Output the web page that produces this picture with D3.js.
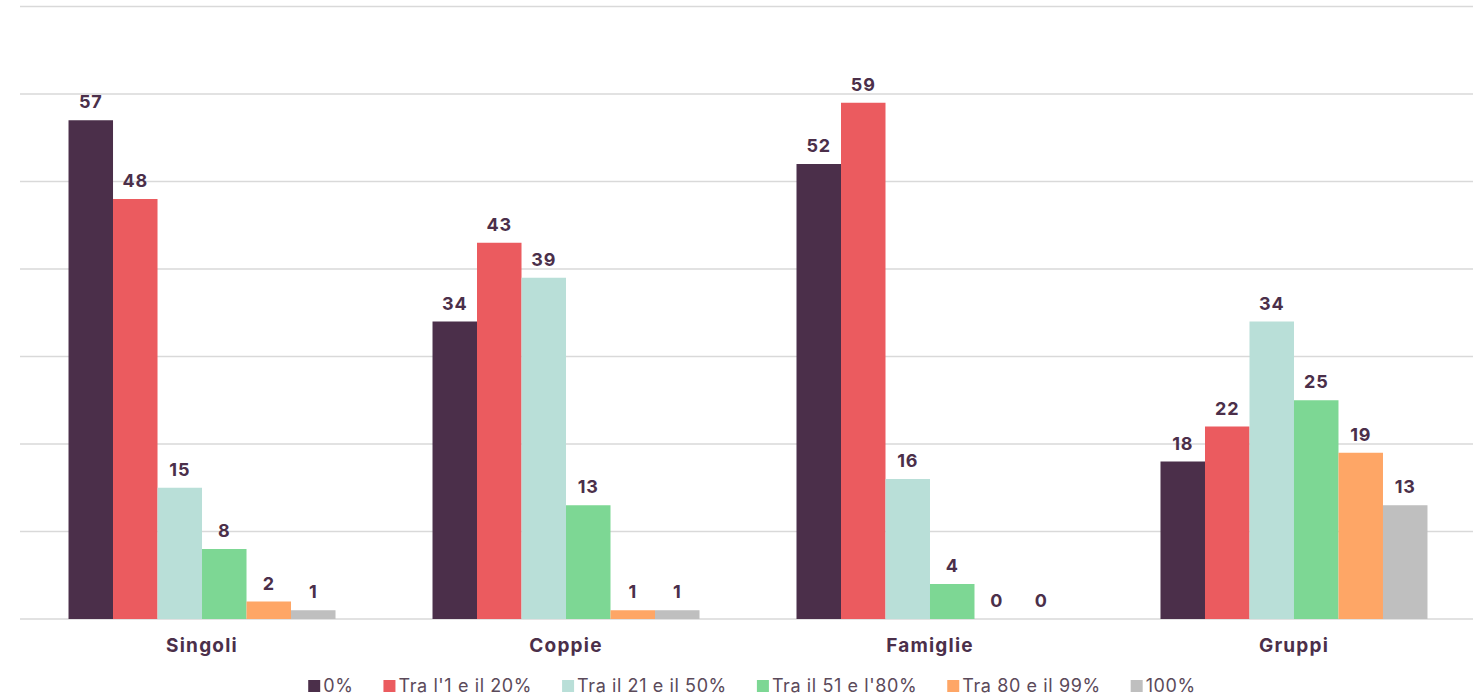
<!DOCTYPE html>
<html><head><meta charset="utf-8">
<script src="https://cdn.jsdelivr.net/npm/d3@7"></script>
<style>html,body{margin:0;padding:0;background:#fff;}svg{display:block;font-family:"Inter","Noto Sans",sans-serif;}</style>
</head><body>
<svg id="chart" width="1473" height="696"></svg>
<script>
const categories = ["Singoli", "Coppie", "Famiglie", "Gruppi"];
const seriesNames = ["0%", "Tra l'1 e il 20%", "Tra il 21 e il 50%", "Tra il 51 e l'80%", "Tra 80 e il 99%", "100%"];
const s0 = [57, 34, 52, 18];
const s1 = [48, 43, 59, 22];
const s2 = [15, 39, 16, 34];
const s3 = [8, 13, 4, 25];
const s4 = [2, 1, 0, 19];
const s5 = [1, 1, 0, 13];
const seriesValues = [s0, s1, s2, s3, s4, s5];
const yTicks = [0, 10, 20, 30, 40, 50, 60, 70];
const colors = ["#4b2f4a", "#eb5b5f", "#b9dfd8", "#7dd794", "#fea666", "#bfbfbf"];

const svg = d3.select("#chart");
const x0 = d3.scaleBand().domain(categories).range([20, 1476]).paddingInner(0.2665).paddingOuter(0.1333);
const x1 = d3.scaleBand().domain(d3.range(seriesNames.length)).range([0, x0.bandwidth()]);
const y = d3.scaleLinear().domain([0, 70]).range([619, 6.5]);

svg.append("g").selectAll("line").data(yTicks).join("line")
  .attr("x1", 20).attr("x2", 1473)
  .attr("y1", d => y(d)).attr("y2", d => y(d))
  .attr("stroke", "#d9d9d9").attr("stroke-width", 1.3);

const groups = svg.append("g").selectAll("g").data(categories).join("g")
  .attr("transform", d => `translate(${x0(d)},0)`);

groups.selectAll("rect").data((c, ci) => seriesValues.map((s, si) => ({si, v: s[ci]}))).join("rect")
  .attr("x", d => x1(d.si)).attr("width", x1.bandwidth())
  .attr("y", d => y(d.v)).attr("height", d => y(0) - y(d.v))
  .attr("fill", d => colors[d.si]);

groups.selectAll("text").data((c, ci) => seriesValues.map((s, si) => ({si, v: s[ci]}))).join("text")
  .attr("x", d => x1(d.si) + x1.bandwidth() / 2)
  .attr("y", d => y(d.v) - 12)
  .attr("text-anchor", "middle")
  .attr("font-size", 18).attr("font-weight", 700).attr("fill", "#4b2f4a")
  .attr("letter-spacing", 0.8)
  .text(d => d.v);

const xAxis = d3.axisBottom(x0).tickSize(0).tickPadding(0);
const ax = svg.append("g").attr("transform", "translate(0,619)").call(xAxis);
ax.select(".domain").remove();
ax.selectAll("text").attr("dy", null).attr("y", 33)
  .attr("font-size", 19).attr("font-weight", 700).attr("fill", "#4b2f4a")
  .attr("letter-spacing", 1.2)
  .attr("font-family", "Inter, 'Noto Sans', sans-serif");

// legend
const leg = svg.append("g");
const items = leg.selectAll("g").data(seriesNames).join("g");
items.append("rect").attr("width", 12).attr("height", 12).attr("y", -12).attr("fill", (d, i) => colors[i]);
items.append("text").attr("x", 15).attr("y", 0).attr("font-size", 18).attr("letter-spacing", 0.6).attr("fill", "#5b4a5a").text(d => d);
let xpos = 0;
const offs = [];
items.each(function(d, i) {
  const w = 15 + this.querySelector("text").getComputedTextLength();
  offs.push(xpos);
  xpos += w + 30;
});
const total = xpos - 30;
const start = 752 - total / 2;
items.attr("transform", (d, i) => `translate(${start + offs[i]},692)`);
</script>
</body></html>
